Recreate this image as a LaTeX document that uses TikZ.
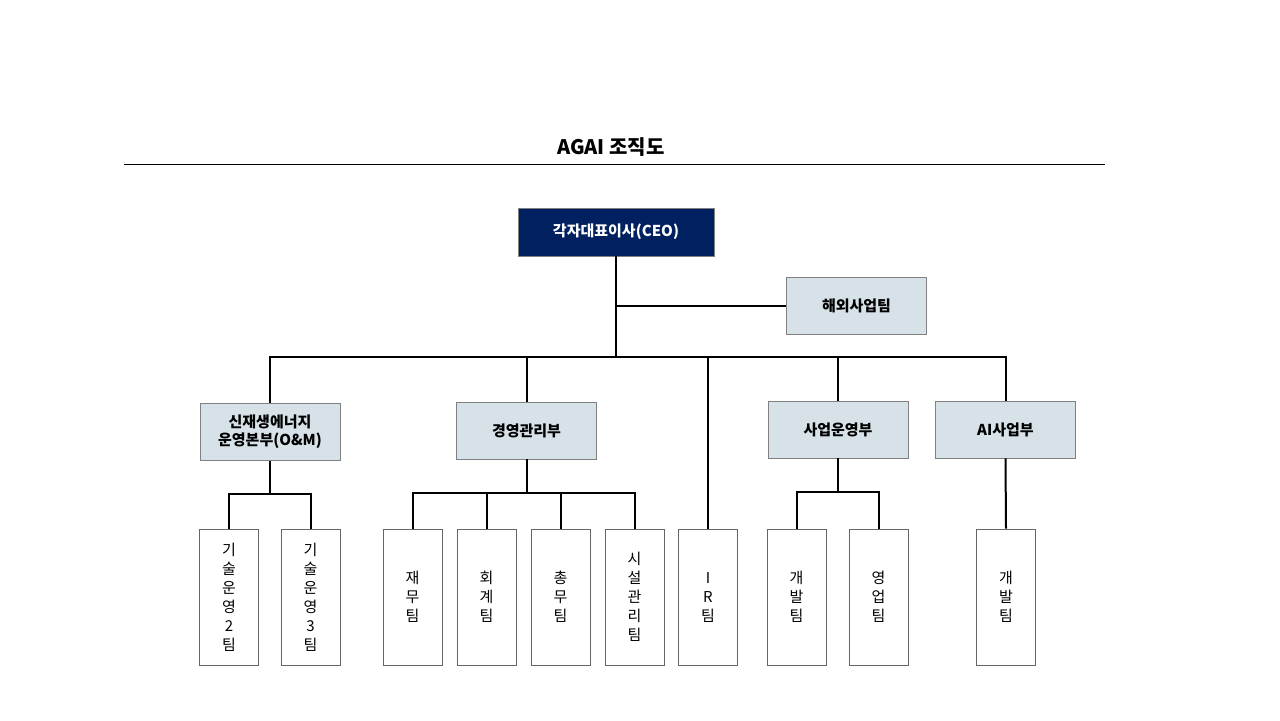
\documentclass[tikz,border=0pt]{standalone}
\usepackage{fontspec}
\setmainfont{Noto Sans CJK KR}
\usetikzlibrary{positioning}
\definecolor{navy}{RGB}{0,32,96}
\definecolor{pale}{RGB}{214,226,232}
\tikzset{%
  ceo/.style={rectangle,draw=black!50,fill=navy,text=white,font=\bfseries\fontsize{7.5}{9}\selectfont,minimum width=98pt,minimum height=24pt,inner sep=0pt},
  dept/.style={rectangle,draw=black!50,fill=pale,font=\bfseries\fontsize{7.5}{9}\selectfont,align=center,minimum width=70pt,minimum height=28.5pt,inner sep=0pt},
  team/.style={rectangle,draw=black!60,fill=white,font=\fontsize{7.5}{9.5}\selectfont,align=center,minimum width=29.5pt,minimum height=68pt,inner sep=0pt},
  link/.style={draw=black,line width=1pt}%
}
\begin{document}
\begin{tikzpicture}[x=0.5pt,y=-0.5pt]
  \useasboundingbox (0,0) rectangle (1280,720);
  \node[font=\bfseries\fontsize{10}{12}\selectfont] (title) at (611,147) {AGAI 조직도};
  \draw[black,line width=0.5pt] (124,164) -- (1105,164);

  \node (ceo) [ceo] at (616,232) {각자대표이사(CEO)};
  \node (overseas) [dept] at (856.5,306) {해외사업팀};

  \node (renew) [dept] at (270,432) {신재생에너지\\운영본부(O\&M)};
  \node (mgmt) [dept] at (526.5,430.5) {경영관리부};
  \node (biz) [dept] at (838,429.5) {사업운영부};
  \node (ai) [dept] at (1005.5,429.5) {AI사업부};

  \node (tech2) [team] at (229,597) {기\\술\\운\\영\\2\\팀};
  \node (tech3) [team] at (310.5,597) {기\\술\\운\\영\\3\\팀};
  \node (fin) [team] at (412.5,597) {재\\무\\팀};
  \node (acct) [team] at (486.5,597) {회\\계\\팀};
  \node (gen) [team] at (560.5,597) {총\\무\\팀};
  \node (fac) [team] at (634.5,597) {시\\설\\관\\리\\팀};
  \node (ir) [team] at (708,597) {I\\R\\팀};
  \node (dev) [team] at (796.5,597) {개\\발\\팀};
  \node (sales) [team] at (878.5,597) {영\\업\\팀};
  \node (aidev) [team] at (1006,597) {개\\발\\팀};

  \coordinate (hub) at (616,357);
  \path[link] (ceo.south) -- (hub);
  \path[link] (ceo.south |- overseas.west) -- (overseas.west);
  \path[link] (renew.north) |- (hub) -| (ai.north);
  \path[link] (mgmt.north) -- (mgmt.north |- hub);
  \path[link] (biz.north) -- (biz.north |- hub);
  \path[link] (ir.north) -- (ir.north |- hub);

  \path[link] (renew.south) -- ++(0,33) coordinate (r1);
  \path[link] (tech2.north) |- (r1) -| (tech3.north);
  \path[link] (mgmt.south) -- ++(0,34) coordinate (m1);
  \path[link] (fin.north) |- (m1) -| (fac.north);
  \path[link] (acct.north) -- (acct.north |- m1);
  \path[link] (gen.north) -- (gen.north |- m1);
  \path[link] (biz.south) -- ++(0,34) coordinate (b1);
  \path[link] (dev.north) |- (b1) -| (sales.north);
  \path[link] (ai.south) -- (aidev.north);
\end{tikzpicture}
\end{document}
